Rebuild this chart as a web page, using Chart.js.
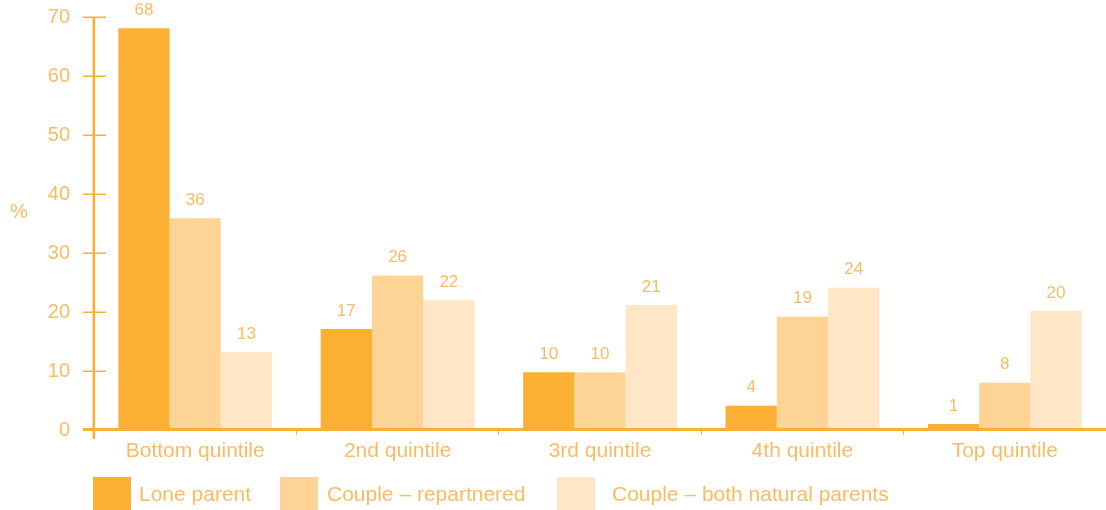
<!DOCTYPE html>
<html><head><meta charset="utf-8">
<script src="https://cdn.jsdelivr.net/npm/chart.js@4/dist/chart.umd.min.js"></script>
<style>html,body{margin:0;padding:0;background:#fff;overflow:hidden}#wrap{width:1106px;height:510px;position:relative}</style>
</head><body><div id="wrap"><canvas id="c" width="1106" height="510"></canvas></div>
<script>
const categories = ['Bottom quintile', '2nd quintile', '3rd quintile', '4th quintile', 'Top quintile'];
const seriesNames = ['Lone parent', 'Couple – repartnered', 'Couple – both natural parents'];
const loneParent = [68.1, 17.1, 9.8, 4.1, 1.0];
const coupleRepartnered = [35.9, 26.2, 9.8, 19.2, 8.0];
const coupleNatural = [13.2, 22.0, 21.2, 24.1, 20.2];
const loneParentLabels = [68, 17, 10, 4, 1];
const repartneredLabels = [36, 26, 10, 19, 8];
const naturalLabels = [13, 22, 21, 24, 20];
const yTicks = [0, 10, 20, 30, 40, 50, 60, 70];
const yAxisTitle = '%';

const TXT = '#FABB62';
const AX = '#FBB034';
const FONT = "'Liberation Sans', Arial, sans-serif";
const colors = ['#FBB034', '#FDD496', '#FEE6C6'];
const valueLabels = [loneParentLabels, repartneredLabels, naturalLabels];

const decorPlugin = {
  id: 'decor',
  afterDatasetsDraw(chart) {
    const ctx = chart.ctx;
    const ys = chart.scales.y, ca = chart.chartArea;
    ctx.save();
    ctx.strokeStyle = AX;
    ctx.lineWidth = 1.5;
    yTicks.forEach(v => {
      const y = Math.round(ys.getPixelForValue(v)) + 0.25;
      ctx.beginPath(); ctx.moveTo(83, y); ctx.lineTo(106, y); ctx.stroke();
    });
    ctx.lineWidth = 3;
    const y0 = ys.getPixelForValue(0) - 0.5;
    ctx.beginPath(); ctx.moveTo(83, y0); ctx.lineTo(chart.width, y0); ctx.stroke();
    ctx.lineWidth = 2.5;
    ctx.beginPath(); ctx.moveTo(ca.left - 0.2, ys.getPixelForValue(70)); ctx.lineTo(ca.left - 0.2, 439); ctx.stroke();
    ctx.fillStyle = TXT;
    ctx.font = '17px ' + FONT;
    ctx.textAlign = 'center';
    ctx.textBaseline = 'middle';
    chart.data.datasets.forEach((ds, di) => {
      chart.getDatasetMeta(di).data.forEach((bar, i) => {
        ctx.fillText(String(valueLabels[di][i]), bar.x, bar.y - 18);
      });
    });
    ctx.font = '20px ' + FONT;
    ctx.fillText(yAxisTitle, 19, 212);
    const swX = [93, 280, 557], txX = [139, 327, 612];
    ctx.textAlign = 'left';
    ctx.font = '21px ' + FONT;
    chart.data.datasets.forEach((ds, di) => {
      ctx.fillStyle = ds.backgroundColor;
      ctx.fillRect(swX[di], 477, 38, 34);
      ctx.fillStyle = TXT;
      ctx.fillText(ds.label, txX[di], 495);
    });
    ctx.restore();
  }
};

new Chart(document.getElementById('c'), {
  type: 'bar',
  data: {
    labels: categories,
    datasets: [
      { label: seriesNames[0], data: loneParent, backgroundColor: colors[0] },
      { label: seriesNames[1], data: coupleRepartnered, backgroundColor: colors[1] },
      { label: seriesNames[2], data: coupleNatural, backgroundColor: colors[2] }
    ]
  },
  options: {
    responsive: false,
    devicePixelRatio: 1,
    animation: false,
    datasets: { bar: { categoryPercentage: 0.76, barPercentage: 1.0, borderWidth: 0 } },
    layout: { padding: { top: 17, right: 0, bottom: 35, left: 0 } },
    plugins: { legend: { display: false }, tooltip: { enabled: false } },
    scales: {
      x: {
        afterFit: s => { s.height = 45; s.paddingLeft = 0; s.paddingRight = 0; },
        grid: { display: true, drawOnChartArea: false, drawTicks: true, tickLength: 5, color: AX, lineWidth: 1, offset: true },
        border: { display: false },
        ticks: { color: TXT, font: { family: FONT, size: 21 }, padding: 4 }
      },
      y: {
        min: 0, max: 70,
        afterFit: s => { s.width = 94; s.paddingTop = 0; s.paddingBottom = 0; },
        afterBuildTicks: s => { s.ticks = yTicks.map(v => ({ value: v })); },
        grid: { display: true, drawOnChartArea: false, drawTicks: true, tickLength: 10, color: 'rgba(0,0,0,0)' },
        border: { display: false },
        ticks: { color: TXT, font: { family: FONT, size: 20 }, padding: 14 }
      }
    }
  },
  plugins: [decorPlugin]
});
</script></body></html>
